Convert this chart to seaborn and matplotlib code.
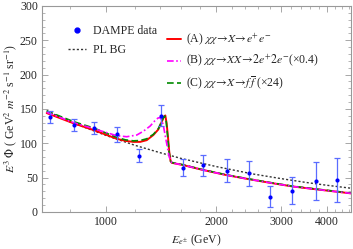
import numpy as np
import pandas as pd
import matplotlib
matplotlib.use("Agg")
import matplotlib.pyplot as plt
import seaborn as sns
from matplotlib.lines import Line2D
from matplotlib.ticker import FixedLocator, MultipleLocator, NullFormatter

# DAMPE data points (GeV, E^3 flux)
energia = [703, 817, 929, 1071, 1229, 1411, 1619, 1842, 2140, 2456, 2808, 3223, 3728, 4259]
fluxo = [138, 126.6, 121.8, 113, 81.5, 140, 64.5, 68, 60, 56.2, 22.3, 31, 44.7, 46.6]
erro = [8.5, 8.5, 9, 10.5, 9.5, 15.5, 12, 15, 16.5, 18.5, 15, 19.5, 27.5, 32]

# fundo lei de potencia
bg_E = [690, 800, 1000, 1200, 1400, 1600, 2000, 2500, 3000, 3500, 4000, 4650]
bg = [147.5, 131, 111.5, 97, 86.5, 78, 66, 55.5, 48.5, 43, 38.8, 34.5]

# cauda comum dos modelos
cauda_E = [1619, 1842, 2140, 2456, 2808, 3223, 3728, 4259, 4650]
cauda = [68.4, 61, 53.4, 47.6, 42.3, 37.1, 33, 29.4, 27]

# (A)
A_E = [690, 817, 929, 1071, 1130, 1188, 1240, 1292, 1347, 1389, 1419, 1440, 1452,
       1464, 1476, 1488, 1501, 1512] + cauda_E
A = [144, 129, 119, 106.5, 103.5, 102, 102, 104.5, 112, 120, 131, 139, 140.5,
     129, 110, 88, 74, 71.5] + cauda

# (B)
B_E = [690, 817, 929, 1071, 1140, 1214, 1265, 1320, 1361, 1389, 1410, 1433,
       1464, 1488, 1512] + cauda_E
B = [145, 130, 121, 111, 109.5, 112, 117.5, 125, 133, 137, 137, 127,
     100, 80, 71.5] + cauda

# (C)
C_E = [690, 817, 929, 1071, 1130, 1188, 1240, 1292, 1347, 1389, 1419, 1435, 1448,
       1460, 1472, 1486, 1500, 1512] + cauda_E
C = [147, 131.5, 122, 108.5, 105, 103.5, 104, 106.5, 113, 121, 131.5, 137.5, 139.5,
     132, 112, 88, 74, 72] + [c + 0.4 for c in cauda]

sns.set_style("ticks")
plt.rcParams['font.family'] = ['Liberation Serif', 'DejaVu Serif']
plt.rcParams['mathtext.fontset'] = 'stix'

fig = plt.figure(figsize=(3.53, 2.49), dpi=100)
ax = fig.add_axes([0.119, 0.149, 0.875, 0.827])

cor_azul = '#0000ff'
cor_verm = '#ff0000'
cor_mag = '#ff00ff'
cor_verde = '#008a00'

sns.lineplot(x=bg_E, y=bg, ax=ax, color='#333333', lw=1.0, linestyle=(0, (1.5, 1.5)))
sns.lineplot(x=A_E, y=A, ax=ax, color=cor_verm, lw=1.4)
sns.lineplot(x=C_E, y=C, ax=ax, color=cor_verde, lw=1.2, linestyle=(0, (4, 2)))
sns.lineplot(x=B_E, y=B, ax=ax, color=cor_mag, lw=1.2, linestyle=(0, (4, 1.5, 1, 1.5)))

ax.errorbar(energia, fluxo, yerr=erro, fmt='none', ecolor='#5a6cff', elinewidth=0.9,
            capsize=2.2, capthick=0.9, zorder=4)
sns.scatterplot(x=energia, y=fluxo, ax=ax, color=cor_azul, s=9, edgecolor=cor_azul,
                linewidth=0, zorder=5)

ax.set_xscale('log')
ax.set_xlim(670, 4650)
ax.set_ylim(0, 300)
ax.xaxis.set_major_locator(FixedLocator([1000, 2000, 3000, 4000]))
ax.xaxis.set_minor_locator(FixedLocator([800, 1200, 1400, 1600, 1800, 2200, 2400, 2600, 2800,
                                         3200, 3400, 3600, 3800, 4200, 4400, 4600]))
ax.xaxis.set_minor_formatter(NullFormatter())
ax.set_xticklabels(['1000', '2000', '3000', '4000'])
ax.yaxis.set_major_locator(MultipleLocator(50))
ax.yaxis.set_minor_locator(MultipleLocator(10))

ax.tick_params(which='both', direction='in', top=True, right=True, color='#999999',
               labelsize=8.5, pad=3)
ax.tick_params(which='major', length=4, width=0.6)
ax.tick_params(which='minor', length=2, width=0.5)
for s in ax.spines.values():
    s.set_color('#999999')
    s.set_linewidth(0.8)

ax.set_xlabel(r'$E_{e^{\pm}}$ (GeV)', fontsize=8.5, labelpad=3)
ax.set_ylabel(r'$E^3\ \Phi$ ( GeV$^2$ $m^{-2}$ s$^{-1}$ sr$^{-1}$)', fontsize=8.5, labelpad=1)

# legendas
h1 = [Line2D([], [], marker='o', color=cor_azul, linestyle='none', markersize=3.5),
      Line2D([], [], color='#333333', lw=1.0, linestyle=(0, (1.5, 1.5)))]
leg1 = ax.legend(h1, ['DAMPE data', 'PL BG'], loc='upper left', bbox_to_anchor=(0.05, 0.96),
                 frameon=False, fontsize=8.5, handlelength=1.5, handletextpad=0.6,
                 labelspacing=0.6)
ax.add_artist(leg1)

h2 = [Line2D([], [], color=cor_verm, lw=1.4),
      Line2D([], [], color=cor_mag, lw=1.2, linestyle=(0, (4, 1.5, 1, 1.5))),
      Line2D([], [], color=cor_verde, lw=1.2, linestyle=(0, (4, 2)))]
rot = [r'(A) $\chi\chi\!\rightarrow\! X\!\rightarrow\! e^{+}e^{-}$',
       r'(B) $\chi\chi\!\rightarrow\! XX\!\rightarrow\! 2e^{+}2e^{-}$(×0.4)',
       r'(C) $\chi\chi\!\rightarrow\! X\!\rightarrow\! f\,\overline{f}$ (×24)']
ax.legend(h2, rot, loc='upper left', bbox_to_anchor=(0.37, 0.925), frameon=False,
          fontsize=8.5, handlelength=1.2, handletextpad=0.4, labelspacing=0.45)

plt.savefig('out.png', dpi=100)
plt.close()
